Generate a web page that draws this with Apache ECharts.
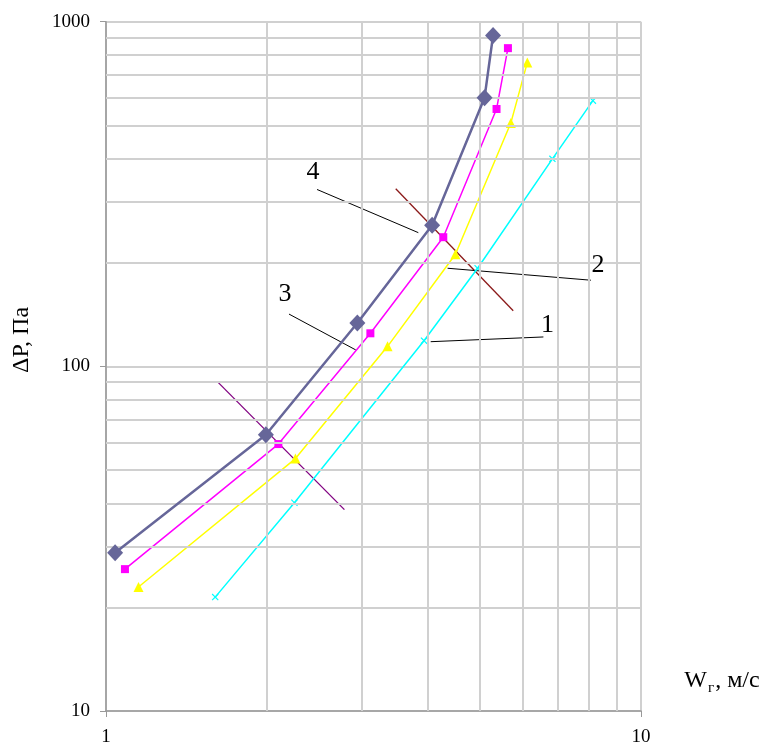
<!DOCTYPE html>
<html>
<head>
<meta charset="utf-8">
<script src="https://cdn.jsdelivr.net/npm/echarts@6/dist/echarts.min.js"></script>
<style>
  html, body { margin: 0; padding: 0; background: #fff; }
  #chart { width: 768px; height: 747px; }
</style>
</head>
<body>
<div id="chart"></div>
<script>
// кривая 1 (голубая)
const w1 = [1.60, 2.25, 3.93, 4.95, 6.83, 8.13]
const dp1 = [21.4, 40.2, 118.7, 192.6, 400, 590]
// кривая 2 (жёлтая)
const w2 = [1.15, 2.26, 3.36, 4.50, 5.71, 6.13]
const dp2 = [22.9, 54.0, 114.3, 211.5, 508, 761]
// кривая 3 (розовая)
const w3 = [1.085, 2.10, 3.12, 4.27, 5.37, 5.64]
const dp3 = [25.8, 59.5, 124.7, 237, 558, 838]
// кривая 4 (тёмная)
const w4 = [1.04, 1.99, 2.95, 4.07, 5.10, 5.29]
const dp4 = [28.8, 63.3, 133.6, 256.6, 602, 912]

// секущие линии
const crossUpW = [3.48, 5.77]
const crossUpDp = [327.5, 145]
const crossLowW = [1.615, 2.79]
const crossLowDp = [90.3, 38.4]

// выноски к номерам кривых
const leader1W = [4.045, 6.57], leader1Dp = [117.9, 121.7]
const leader2W = [4.35, 8.06], leader2Dp = [192.6, 177.8]
const leader3W = [2.198, 2.93], leader3Dp = [141.8, 111.6]
const leader4W = [2.48, 3.835], leader4Dp = [326, 244.3]

// вспомогательная сетка логарифмических осей
const xMinor = [2, 3, 4, 5, 6, 7, 8, 9]
const yMinor = [20, 30, 40, 50, 60, 70, 80, 90, 200, 300, 400, 500, 600, 700, 800, 900]

const serif = '"Liberation Serif", "Times New Roman", serif'
const pairs = (xs, ys) => xs.map((x, i) => [x, ys[i]])
const xMark = 'path://M0,1.2L1.2,0L5,3.8L8.8,0L10,1.2L6.2,5L10,8.8L8.8,10L5,6.2L1.2,10L0,8.8L3.8,5Z'

const chart = echarts.init(document.getElementById('chart'))

function plainLine(xs, ys, color, width) {
  return {
    type: 'line',
    data: pairs(xs, ys),
    symbol: 'none',
    silent: true,
    z: 3,
    lineStyle: { color: color, width: width }
  }
}

const option = {
  animation: false,
  grid: { left: 106, right: 127, top: 21.7, bottom: 34 },
  xAxis: {
    type: 'log',
    logBase: 10,
    min: 1,
    max: 10,
    axisLine: { show: true, lineStyle: { color: '#999', width: 1.5 } },
    axisTick: { show: true, length: 6, lineStyle: { color: '#999' } },
    axisLabel: { fontFamily: serif, fontSize: 19, color: '#000', margin: 17, formatter: v => String(Math.round(v)) },
    splitLine: { show: true, lineStyle: { color: '#d0d0d0', width: 2 } }
  },
  yAxis: {
    type: 'log',
    logBase: 10,
    min: 10,
    max: 1000,
    axisLine: { show: true, lineStyle: { color: '#999', width: 1.5 } },
    axisTick: { show: true, length: 6, lineStyle: { color: '#999' } },
    axisLabel: { fontFamily: serif, fontSize: 19, color: '#000', margin: 16, formatter: v => String(Math.round(v)) },
    splitLine: { show: true, lineStyle: { color: '#d0d0d0', width: 2 } }
  },
  series: [
    {
      // промежуточные линии сетки 2..9
      type: 'line',
      data: [],
      z: 1,
      markLine: {
        silent: true,
        symbol: 'none',
        label: { show: false },
        lineStyle: { color: '#d0d0d0', width: 2, type: 'solid' },
        data: xMinor.map(v => ({ xAxis: v })).concat(yMinor.map(v => ({ yAxis: v })))
      }
    },
    plainLine(crossUpW, crossUpDp, '#8b1a1a', 1.3),
    plainLine(crossLowW, crossLowDp, '#800080', 1.3),
    plainLine(leader1W, leader1Dp, '#000', 1),
    plainLine(leader2W, leader2Dp, '#000', 1),
    plainLine(leader3W, leader3Dp, '#000', 1),
    plainLine(leader4W, leader4Dp, '#000', 1),
    {
      type: 'line', data: pairs(w1, dp1), z: 4,
      symbol: xMark, symbolSize: 7,
      lineStyle: { color: '#00ffff', width: 1.5 },
      itemStyle: { color: '#00ffff' }
    },
    {
      type: 'line', data: pairs(w2, dp2), z: 4,
      symbol: 'triangle', symbolSize: 10,
      lineStyle: { color: '#ffff00', width: 1.5 },
      itemStyle: { color: '#ffff00' }
    },
    {
      type: 'line', data: pairs(w3, dp3), z: 4,
      symbol: 'rect', symbolSize: 8,
      lineStyle: { color: '#ff00ff', width: 1.5 },
      itemStyle: { color: '#ff00ff' }
    },
    {
      type: 'line', data: pairs(w4, dp4), z: 5,
      symbol: 'diamond', symbolSize: [16, 17],
      lineStyle: { color: '#666699', width: 2.5 },
      itemStyle: { color: '#666699' }
    }
  ]
}
chart.setOption(option)

// номера кривых с белой подложкой (как текстовые блоки Excel)
function numberLabel(text, anchor, dx, dy, box) {
  const p = chart.convertToPixel({ gridIndex: 0 }, anchor)
  return [
    {
      type: 'rect', z: 2,
      shape: { x: p[0] + box[0], y: p[1] + box[1], width: box[2], height: box[3] },
      style: { fill: '#fff' }
    },
    {
      type: 'text', z: 10,
      x: p[0] + dx, y: p[1] + dy,
      style: { text: text, font: '26px ' + serif, fill: '#000', align: 'center', verticalAlign: 'middle' }
    }
  ]
}

const labels = [].concat(
  numberLabel('4', [leader4W[0], leader4Dp[0]], -4, -17, [-30, -45, 46, 60]),
  numberLabel('3', [leader3W[0], leader3Dp[0]], -4, -20, [-20, -36, 30, 28]),
  numberLabel('2', [leader2W[1], leader2Dp[1]], 7, -15, [-19, -43, 47, 65]),
  numberLabel('1', [leader1W[1], leader1Dp[1]], 4, -12, [-18, -38, 53, 62])
)

chart.setOption({
  graphic: labels.concat([
    {
      type: 'text', z: 10,
      x: 722, y: 680,
      style: {
        text: '{a|W}{b|г}{a|, м/с}',
        align: 'center', verticalAlign: 'middle', fill: '#000',
        rich: {
          a: { fontFamily: serif, fontSize: 24, fill: '#000', lineHeight: 26, verticalAlign: 'bottom' },
          b: { fontFamily: serif, fontSize: 15, fill: '#000', lineHeight: 26, verticalAlign: 'bottom', padding: [0, 1, -3, 1] }
        }
      }
    },
    {
      type: 'text', z: 10,
      x: 22, y: 340, rotation: Math.PI / 2,
      style: { text: 'ΔP, Па', font: '24px ' + serif, fill: '#000', align: 'center', verticalAlign: 'middle' }
    }
  ])
})
</script>
</body>
</html>
